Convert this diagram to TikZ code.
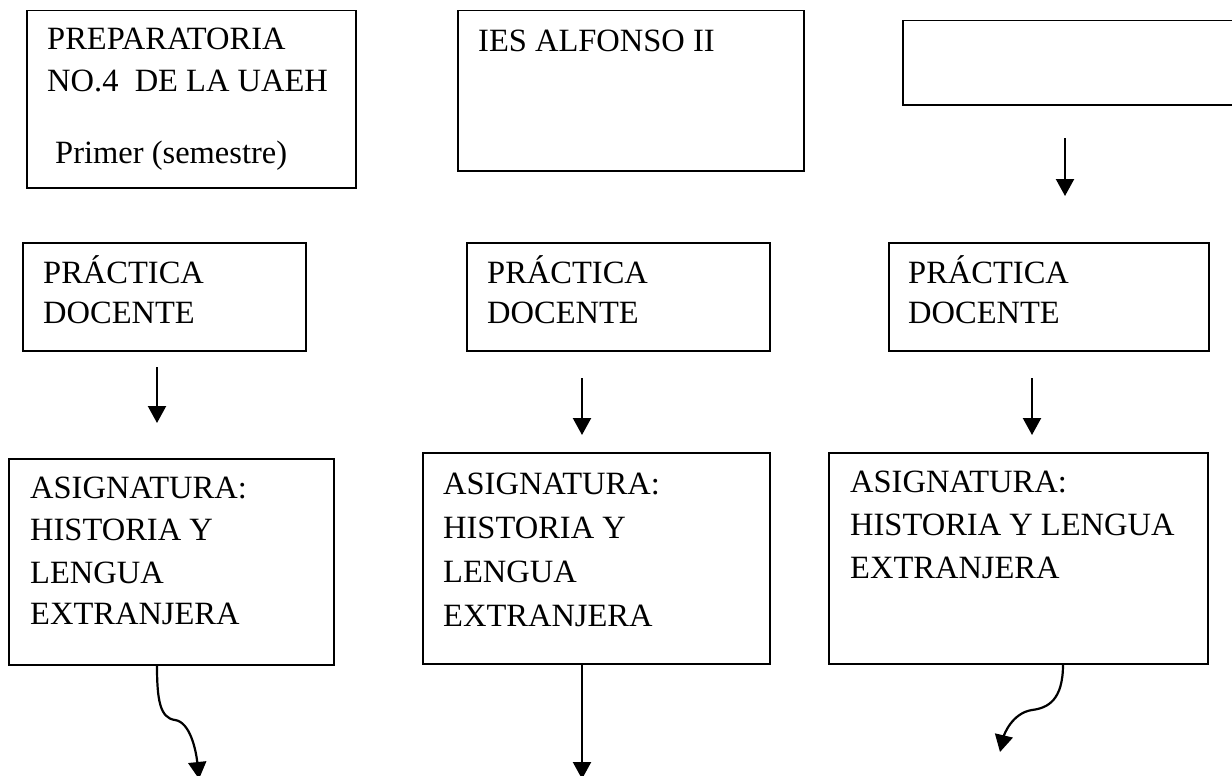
\documentclass[tikz,border=0pt]{standalone}
\usepackage{fontspec}
\setmainfont{Liberation Serif}
\usetikzlibrary{arrows.meta}
\begin{document}
\begin{tikzpicture}[x=1pt,y=-1pt,
  box/.style={draw=black,line width=1.5pt,inner sep=0pt,anchor=north west},
  txt/.style={anchor=base west,inner sep=0pt,font=\fontsize{32.5}{38}\selectfont},
  arr/.style={line width=2.2pt,-{Triangle[width=18pt,length=17pt]}}]
\useasboundingbox[fill=white] (0,0) rectangle (1232,776);
% boxes
\node[box,minimum width=329pt,minimum height=177pt] (b1) at (26,10) {};
\node[box,minimum width=346pt,minimum height=160pt] (b2) at (457,10) {};
\node[box,minimum width=340pt,minimum height=84pt] (b3) at (902,20) {};
\node[box,minimum width=283pt,minimum height=108pt] (b4) at (22,242) {};
\node[box,minimum width=303pt,minimum height=108pt] (b5) at (466,242) {};
\node[box,minimum width=320pt,minimum height=108pt] (b6) at (888,242) {};
\node[box,minimum width=325pt,minimum height=206pt] (b7) at (8,458) {};
\node[box,minimum width=347pt,minimum height=211pt] (b8) at (422,452) {};
\node[box,minimum width=379pt,minimum height=211pt] (b9) at (828,452) {};
% texts
\node[txt] (t1a) at (47,50) {PREPARATORIA};
\node[txt] (t1b) at (47,92) {NO.4\ \ DE LA UAEH};
\node[txt] (t1c) at (55,163) {Primer (semestre)};
\node[txt] (t2a) at (478,52) {IES ALFONSO II};
\node[txt] (t4a) at (43,283) {PRÁCTICA};
\node[txt] (t4b) at (43,323) {DOCENTE};
\node[txt] (t5a) at (487,283) {PRÁCTICA};
\node[txt] (t5b) at (487,323) {DOCENTE};
\node[txt] (t6a) at (908,283) {PRÁCTICA};
\node[txt] (t6b) at (908,323) {DOCENTE};
\node[txt] (t7a) at (30,498) {ASIGNATURA:};
\node[txt] (t7b) at (30,540) {HISTORIA Y};
\node[txt] (t7c) at (30,583) {LENGUA};
\node[txt] (t7d) at (30,624) {EXTRANJERA};
\node[txt] (t8a) at (443,494) {ASIGNATURA:};
\node[txt] (t8b) at (443,538) {HISTORIA Y};
\node[txt] (t8c) at (443,582) {LENGUA};
\node[txt] (t8d) at (443,626) {EXTRANJERA};
\node[txt] (t9a) at (850,492) {ASIGNATURA:};
\node[txt] (t9b) at (850,535) {HISTORIA Y LENGUA};
\node[txt] (t9c) at (850,578) {EXTRANJERA};
% arrow coordinates
\coordinate (a3s) at (1065,138); \coordinate (a3e) at (1065,196);
\coordinate (a4s) at (157,367);  \coordinate (a4e) at (157,423);
\coordinate (a5s) at (582,378);  \coordinate (a5e) at (582,435);
\coordinate (a6s) at (1032,378); \coordinate (a6e) at (1032,435);
\coordinate (e7) at (199,779);
\coordinate (e8) at (582,779);
\coordinate (e9) at (1000,752);
% arrows
\draw[arr] (a3s) -- (a3e);
\draw[arr] (a4s) -- (a4e);
\draw[arr] (a5s) -- (a5e);
\draw[arr] (a6s) -- (a6e);
\draw[arr] (b7.south west -| 157,0) .. controls (157,700) and (160,718) .. (175,720) .. controls (190,722) and (196,750) .. (e7);
\draw[arr] (b8.south west -| e8) -- (e8);
\draw[arr] (b9.south west -| 1063,0) .. controls (1063,700) and (1048,708) .. (1032,710) .. controls (1012,713) and (1004,735) .. (e9);
\end{tikzpicture}
\end{document}
